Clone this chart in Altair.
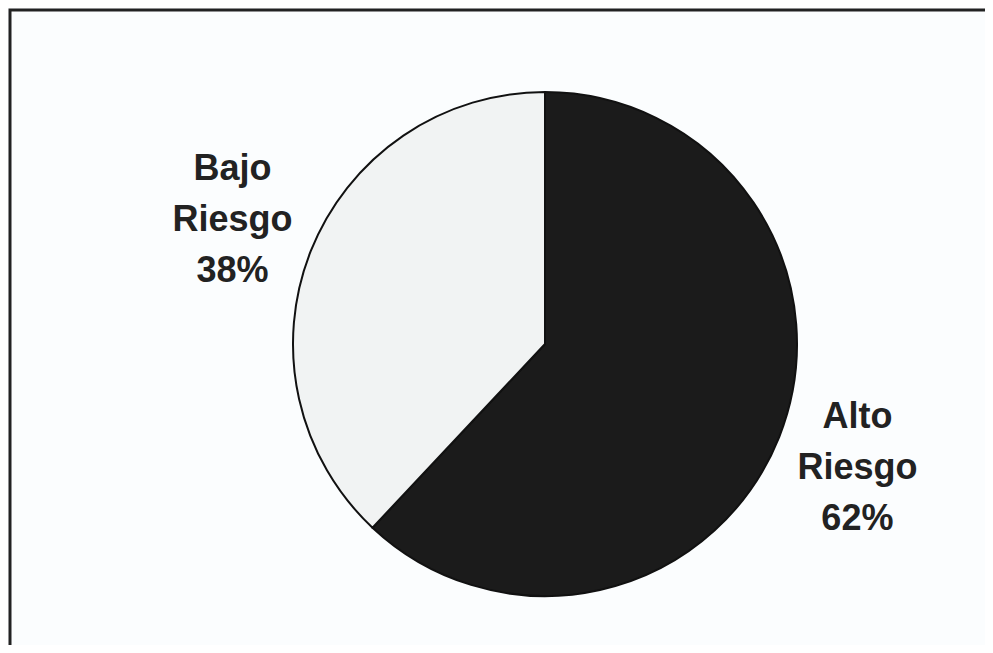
import altair as alt
import pandas as pd

categorias = ["Alto Riesgo", "Bajo Riesgo"]
valores = [62, 38]
orden = [1, 2]
etiquetas = ["Alto\nRiesgo\n62%", "Bajo\nRiesgo\n38%"]
colores = ["#1b1b1b", "#f1f3f3"]

df = pd.DataFrame({"categoria": categorias, "valor": valores, "orden": orden, "etiqueta": etiquetas})

W, H = 977, 637
CX, CY = 537, 336

base = alt.Chart(df).encode(
    theta=alt.Theta("valor:Q", stack=True),
    order=alt.Order("orden:Q"),
)

pie = base.mark_arc(radius=252, stroke="#111111", strokeWidth=2).encode(
    color=alt.Color("categoria:N", scale=alt.Scale(domain=categorias, range=colores), legend=None),
    x=alt.value(CX),
    y=alt.value(CY),
)

labels = base.mark_text(
    radius=336, dy=-51, font="Liberation Sans", fontWeight="bold", fontSize=36,
    lineBreak="\n", lineHeight=51, align="center", baseline="middle", color="#222222",
).encode(
    text="etiqueta:N",
    x=alt.value(CX),
    y=alt.value(CY),
)

border = alt.Chart(pd.DataFrame({"a": [0]})).mark_rect(
    fill=None, stroke="#222222", strokeWidth=3, clip=True
).encode(
    x=alt.value(2), x2=alt.value(1100), y=alt.value(2), y2=alt.value(1100)
)

chart = alt.layer(pie, labels, border).properties(
    width=W, height=H,
    autosize=alt.AutoSizeParams(type="none"),
    padding=0,
    background="#fbfdfe",
).configure_view(stroke=None)

chart.save("out.html", embed_options={"renderer": "svg", "actions": False})
